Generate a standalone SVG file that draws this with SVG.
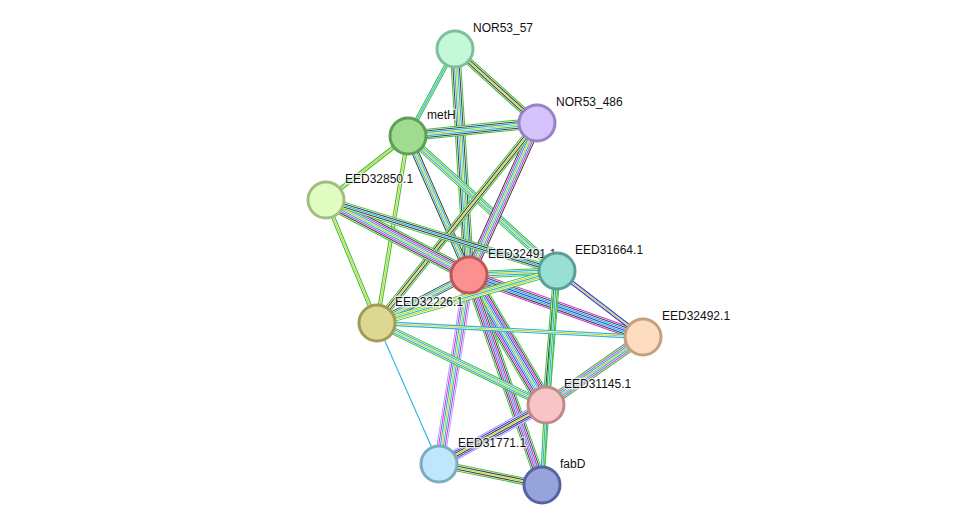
<svg xmlns="http://www.w3.org/2000/svg" xmlns:xlink="http://www.w3.org/1999/xlink" width="975" height="530" viewBox="0 0 975 530">
<style>
line,use{fill:none}
.G{stroke:#3cc23c}.K{stroke:#404040}.C{stroke:#2ab4e0}.Y{stroke:#c4d62a}.M{stroke:#d62ad6}.B{stroke:#3a3ae8}.L{stroke:#a9a0ff}.X{stroke:#fff}
.w0{stroke-width:1.1}.w1{stroke-width:4.3}.w2{stroke-width:7.5}.w3{stroke-width:10.7}.w4{stroke-width:13.9}.w5{stroke-width:17.1}
.v1{stroke-width:2.1}.v2{stroke-width:5.5}.v3{stroke-width:8.7}.v4{stroke-width:11.9}.v5{stroke-width:15.1}
circle{stroke-width:3}
text{font-family:"Liberation Sans",Arial,sans-serif;font-size:12px;fill:#111;paint-order:stroke;stroke:#fff;stroke-width:2.5px;stroke-opacity:.7}
</style>
<defs>
<line id="a1" x1="455" y1="49" x2="537" y2="123"/>
<line id="a2" x1="455" y1="49" x2="408" y2="136"/>
<line id="a3" x1="455" y1="49" x2="469" y2="275"/>
<line id="a4" x1="408" y1="136" x2="537" y2="123"/>
<line id="a5" x1="408" y1="136" x2="326" y2="200"/>
<line id="a6" x1="408" y1="136" x2="377" y2="323"/>
<line id="a7" x1="408" y1="136" x2="469" y2="275"/>
<line id="a8" x1="408" y1="136" x2="557" y2="271"/>
<line id="a9" x1="537" y1="123" x2="469" y2="275"/>
<line id="a10" x1="537" y1="123" x2="377" y2="323"/>
<line id="a11" x1="326" y1="200" x2="469" y2="275"/>
<line id="a12" x1="326" y1="200" x2="557" y2="271"/>
<line id="a13" x1="326" y1="200" x2="377" y2="323"/>
<line id="a14" x1="469" y1="275" x2="557" y2="271"/>
<line id="a15" x1="469" y1="275" x2="377" y2="323"/>
<line id="a16" x1="469" y1="275" x2="643" y2="337"/>
<line id="a17" x1="469" y1="275" x2="546" y2="405"/>
<line id="a18" x1="469" y1="275" x2="542" y2="485"/>
<line id="a19" x1="469" y1="275" x2="439" y2="464"/>
<line id="a20" x1="557" y1="271" x2="643" y2="337"/>
<line id="a21" x1="557" y1="271" x2="546" y2="405"/>
<line id="a22" x1="557" y1="271" x2="377" y2="323"/>
<line id="a23" x1="377" y1="323" x2="546" y2="405"/>
<line id="a24" x1="377" y1="323" x2="439" y2="464"/>
<line id="a25" x1="377" y1="323" x2="643" y2="337"/>
<line id="a26" x1="546" y1="405" x2="643" y2="337"/>
<line id="a27" x1="546" y1="405" x2="439" y2="464"/>
<line id="a28" x1="546" y1="405" x2="542" y2="485"/>
<line id="a29" x1="439" y1="464" x2="542" y2="485"/>
<line id="a30" x1="557" y1="271" x2="542" y2="485"/>
</defs>
<g id="connectors">
<use href="#a1" class="G w2"/><use href="#a1" class="X v2"/><use href="#a1" class="K w1"/><use href="#a1" class="X v1"/><use href="#a1" class="Y w0"/>
<use href="#a2" class="G w1"/><use href="#a2" class="X v1"/><use href="#a2" class="C w0"/>
<use href="#a3" class="G w3"/><use href="#a3" class="X v3"/><use href="#a3" class="K w2"/><use href="#a3" class="X v2"/><use href="#a3" class="C w1"/><use href="#a3" class="X v1"/><use href="#a3" class="Y w0"/>
<use href="#a4" class="G w3"/><use href="#a4" class="X v3"/><use href="#a4" class="K w2"/><use href="#a4" class="X v2"/><use href="#a4" class="C w1"/><use href="#a4" class="X v1"/><use href="#a4" class="Y w0"/>
<use href="#a5" class="G w1"/><use href="#a5" class="X v1"/><use href="#a5" class="Y w0"/>
<use href="#a6" class="G w1"/><use href="#a6" class="X v1"/><use href="#a6" class="Y w0"/>
<use href="#a7" class="K w2"/><use href="#a7" class="X v2"/><use href="#a7" class="C w1"/><use href="#a7" class="X v1"/><use href="#a7" class="Y w0"/>
<use href="#a8" class="G w2"/><use href="#a8" class="X v2"/><use href="#a8" class="C w1"/><use href="#a8" class="X v1"/><use href="#a8" class="Y w0"/>
<use href="#a9" class="K w3"/><use href="#a9" class="X v3"/><use href="#a9" class="M w2"/><use href="#a9" class="X v2"/><use href="#a9" class="C w1"/><use href="#a9" class="X v1"/><use href="#a9" class="Y w0"/>
<use href="#a10" class="G w2"/><use href="#a10" class="X v2"/><use href="#a10" class="K w1"/><use href="#a10" class="X v1"/><use href="#a10" class="Y w0"/>
<use href="#a11" class="G w4"/><use href="#a11" class="X v4"/><use href="#a11" class="K w3"/><use href="#a11" class="X v3"/><use href="#a11" class="M w2"/><use href="#a11" class="X v2"/><use href="#a11" class="C w1"/><use href="#a11" class="X v1"/><use href="#a11" class="Y w0"/>
<use href="#a12" class="G w2"/><use href="#a12" class="X v2"/><use href="#a12" class="K w1"/><use href="#a12" class="X v1"/><use href="#a12" class="C w0"/>
<use href="#a13" class="G w1"/><use href="#a13" class="X v1"/><use href="#a13" class="Y w0"/>
<use href="#a14" class="G w2"/><use href="#a14" class="X v2"/><use href="#a14" class="C w1"/><use href="#a14" class="X v1"/><use href="#a14" class="Y w0"/>
<use href="#a15" class="K w2"/><use href="#a15" class="X v2"/><use href="#a15" class="C w1"/><use href="#a15" class="X v1"/><use href="#a15" class="Y w0"/>
<use href="#a16" class="M w3"/><use href="#a16" class="X v3"/><use href="#a16" class="K w2"/><use href="#a16" class="X v2"/><use href="#a16" class="C w1"/><use href="#a16" class="X v1"/><use href="#a16" class="B w0"/>
<use href="#a17" class="G w5"/><use href="#a17" class="X v5"/><use href="#a17" class="K w4"/><use href="#a17" class="X v4"/><use href="#a17" class="M w3"/><use href="#a17" class="X v3"/><use href="#a17" class="B w2"/><use href="#a17" class="X v2"/><use href="#a17" class="C w1"/><use href="#a17" class="X v1"/><use href="#a17" class="Y w0"/>
<use href="#a18" class="G w3"/><use href="#a18" class="X v3"/><use href="#a18" class="K w2"/><use href="#a18" class="X v2"/><use href="#a18" class="M w1"/><use href="#a18" class="X v1"/><use href="#a18" class="C w0"/>
<use href="#a19" class="L w3"/><use href="#a19" class="X v3"/><use href="#a19" class="M w2"/><use href="#a19" class="X v2"/><use href="#a19" class="C w1"/><use href="#a19" class="X v1"/><use href="#a19" class="Y w0"/>
<use href="#a20" class="B w1"/><use href="#a20" class="X v1"/><use href="#a20" class="Y w0"/>
<use href="#a21" class="G w2"/><use href="#a21" class="X v2"/><use href="#a21" class="K w1"/><use href="#a21" class="X v1"/><use href="#a21" class="C w0"/>
<use href="#a30" class="G w1"/><use href="#a30" class="X v1"/><use href="#a30" class="C w0"/>
<use href="#a22" class="G w2"/><use href="#a22" class="X v2"/><use href="#a22" class="Y w1"/><use href="#a22" class="X v1"/><use href="#a22" class="C w0"/>
<use href="#a23" class="G w2"/><use href="#a23" class="X v2"/><use href="#a23" class="C w1"/><use href="#a23" class="X v1"/><use href="#a23" class="Y w0"/>
<use href="#a24" class="C w0"/>
<use href="#a25" class="C w1"/><use href="#a25" class="X v1"/><use href="#a25" class="Y w0"/>
<use href="#a26" class="G w3"/><use href="#a26" class="X v3"/><use href="#a26" class="M w2"/><use href="#a26" class="X v2"/><use href="#a26" class="C w1"/><use href="#a26" class="X v1"/><use href="#a26" class="Y w0"/>
<use href="#a27" class="L w3"/><use href="#a27" class="X v3"/><use href="#a27" class="B w2"/><use href="#a27" class="X v2"/><use href="#a27" class="K w1"/><use href="#a27" class="X v1"/><use href="#a27" class="Y w0"/>
<use href="#a28" class="G w1"/><use href="#a28" class="X v1"/><use href="#a28" class="C w0"/>
<use href="#a29" class="G w2"/><use href="#a29" class="X v2"/><use href="#a29" class="K w1"/><use href="#a29" class="X v1"/><use href="#a29" class="Y w0"/>
</g>
<g id="n-NOR53_57"><circle cx="455" cy="49" r="18" fill="#c3f8d8" stroke="#7fbf9a"/><text x="473" y="32">NOR53_57</text></g>
<g id="n-NOR53_486"><circle cx="537" cy="123" r="18" fill="#d4c3fb" stroke="#9a82c8"/><text x="556" y="106">NOR53_486</text></g>
<g id="n-metH"><circle cx="408" cy="136" r="18" fill="#a0dc90" stroke="#5e9e55"/><text x="427" y="119">metH</text></g>
<g id="n-EED32850.1"><circle cx="326" cy="200" r="18" fill="#e0fcc0" stroke="#a2bd82"/><text x="345" y="183">EED32850.1</text></g>
<g id="n-EED32491.1"><circle cx="469" cy="275" r="18" fill="#fb9090" stroke="#c05656"/><text x="488" y="258">EED32491.1</text></g>
<g id="n-EED31664.1"><circle cx="557" cy="271" r="18" fill="#98e0d4" stroke="#5b9e95"/><text x="575" y="254">EED31664.1</text></g>
<g id="n-EED32226.1"><circle cx="377" cy="323" r="18" fill="#dcd894" stroke="#a19b55"/><text x="395" y="306">EED32226.1</text></g>
<g id="n-EED32492.1"><circle cx="643" cy="337" r="18" fill="#fddcbf" stroke="#c4a07e"/><text x="662" y="320">EED32492.1</text></g>
<g id="n-EED31145.1"><circle cx="546" cy="405" r="18" fill="#f8c4c6" stroke="#be8a8c"/><text x="564" y="388">EED31145.1</text></g>
<g id="n-EED31771.1"><circle cx="439" cy="464" r="18" fill="#c0e6fb" stroke="#7eaac2"/><text x="458" y="447">EED31771.1</text></g>
<g id="n-fabD"><circle cx="542" cy="485" r="18" fill="#97a4dc" stroke="#5563a5"/><text x="560" y="468">fabD</text></g>
</svg>
